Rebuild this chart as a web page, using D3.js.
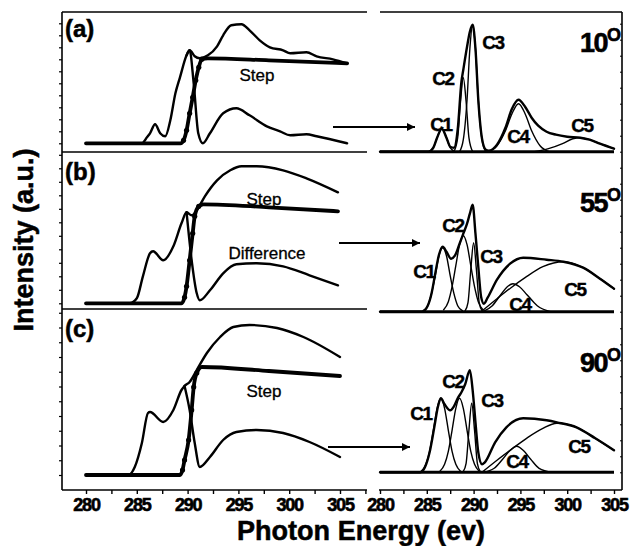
<!DOCTYPE html>
<html>
<head>
<meta charset="utf-8">
<script src="https://cdn.jsdelivr.net/npm/d3@7"></script>
<style>
body { margin: 0; background: #fff; }
svg text { font-family: "Liberation Sans", Arial, sans-serif; fill: #000; }
</style>
</head>
<body>
<svg id="chart" width="631" height="546"></svg>
<script>
// tick labels and names
var energyTicks = [280, 285, 290, 295, 300, 305];
var panelNames = ["(a)", "(b)", "(c)"];
var angles = ["10", "55", "90"];
var peakNames = ["C1", "C2", "C3", "C4", "C5"];

// left column, [photon energy eV, intensity a.u.]
var totalA = [[280,0],[285.5,0],[286.0,6],[286.3,10],[286.8,19],[287.3,10],[287.8,7],[288.3,23],[288.8,50],[289.25,66],[289.9,88],[290.2,93],[290.7,87],[291.2,85],[292.0,88],[292.9,97],[293.5,108],[294.3,118],[295.3,119],[296.1,113],[297.1,103],[298.1,96],[299.4,93],[300.1,90],[301.7,91],[302.7,87],[304.3,84],[305.7,80]];
var stepA = [[280,0],[289.3,0],[289.6,3],[289.9,13],[290.2,30],[290.5,46],[290.8,63],[291.1,76],[291.4,84],[292.0,85],[298.0,83],[305.7,80]];
var diffA = [[289.9,88],[290.2,93],[290.6,60],[291.05,10],[291.5,0],[292.2,10],[293.5,30],[294.8,35],[296.1,28],[297.8,17],[299.1,12],[300.1,8],[301.7,9],[302.7,7],[305.7,0]];

var totalB = [[280,0],[284.3,0],[285.0,5],[285.6,27],[286.3,50],[286.6,52],[287.6,43],[288.6,57],[289.4,80],[289.9,91],[290.4,88],[290.9,93],[291.7,107],[292.9,123],[294.2,133],[295.3,137],[296.8,137],[299.4,133],[301.7,125],[304.8,111]];
var stepB = [[280,0],[289.4,0],[289.7,6],[289.9,17],[290.2,43],[290.5,70],[290.7,87],[291.1,97],[291.55,99],[298.0,96],[304.8,92]];
var diffB = [[289.9,91],[290.4,43],[290.9,10],[291.2,3],[292.2,13],[293.5,30],[294.8,39],[296.8,40],[299.4,37],[302.0,28],[304.8,18]];

var totalC = [[280,0],[284.2,0],[284.8,8],[285.5,32],[286.1,62],[286.3,63],[287.6,53],[288.6,65],[289.4,85],[289.7,89],[290.2,93],[290.9,105],[291.9,122],[293.2,138],[294.5,148],[296.1,150],[298.8,147],[301.4,138],[305,118]];
var stepC = [[280,0],[289.25,0],[289.5,5],[289.7,15],[290.1,35],[290.4,65],[290.6,88],[290.9,102],[291.4,108],[298.0,104],[305,99]];
var diffC = [[289.7,89],[290.2,65],[290.7,32],[291.2,8],[292.2,18],[293.5,35],[294.8,43],[296.8,45],[299.4,42],[302.0,33],[305,18]];

// right column, fitted peaks C1..C5 and their envelope
var c1A = [[285.2,0],[285.7,4],[286.1,14],[286.6,23],[287.1,14],[287.5,4],[288.0,0]];
var c2A = [[287.9,0],[288.3,14],[288.6,50],[288.9,74],[289.2,50],[289.5,14],[289.9,0]];
var c3A = [[288.5,0],[288.9,12],[289.3,52],[289.6,103],[289.9,127],[290.2,103],[290.5,52],[290.9,12],[291.3,0]];
var c4A = [[291.5,0],[292.5,6],[293.4,21],[294.1,38],[294.8,48],[295.5,38],[296.2,21],[297.1,6],[298.1,0]];
var c5A = [[296.5,0],[298.0,3],[299.5,8],[300.6,13],[301.4,14],[302.4,12],[303.5,8],[305,3]];
var envA = [[280,0],[285.2,0],[285.7,4],[286.1,14],[286.6,23],[287.1,14],[287.5,5],[287.9,4],[288.3,22],[288.7,70],[288.9,82],[289.3,105],[289.6,120],[289.9,127],[290.2,103],[290.5,52],[290.9,13],[291.3,2],[291.6,1],[292.5,7],[293.4,24],[294.1,43],[294.8,52],[295.5,45],[296.2,34],[296.9,26],[297.8,20],[298.8,17],[300.0,15],[301.4,14],[302.4,12],[303.5,8],[305,3]];

var c1B = [[284.6,1],[285.1,6],[285.5,18],[285.9,36],[286.3,56],[286.7,64],[287.1,56],[287.5,36],[287.9,18],[288.3,6],[288.8,1]];
var c2B = [[286.8,2],[287.3,10],[287.7,25],[288.1,46],[288.5,67],[288.9,76],[289.3,67],[289.7,46],[290.1,25],[290.5,10],[291.0,2]];
var c3B = [[289.1,1],[289.4,9],[289.7,42],[290.0,69],[290.3,42],[290.6,9],[290.9,1]];
var c4B = [[291.0,0],[292.0,6],[292.9,17],[293.6,25],[294.2,28],[294.9,25],[295.7,17],[296.8,6],[298.2,0]];
var c5B = [[290.8,0],[292.5,13],[294.0,24],[295.5,34],[297.4,45],[299.6,50],[301.7,44],[303.5,33],[305,23]];
var envB = [[280,0],[284.5,0],[285.1,6],[285.5,18],[285.9,38],[286.3,57],[286.7,65],[287.1,60],[287.6,53],[288.0,56],[288.5,68],[288.9,78],[289.3,88],[289.6,98],[289.9,107],[290.2,78],[290.5,45],[290.8,15],[291.1,8],[291.5,14],[292.5,32],[293.9,48],[295.3,54],[297.8,52],[299.6,50],[301.7,44],[303.5,33],[305,23]];

var c1C = [[284.4,1],[284.9,8],[285.3,21],[285.7,42],[286.1,64],[286.5,74],[286.9,64],[287.3,42],[287.7,21],[288.1,8],[288.6,1]];
var c2C = [[286.4,1],[286.9,8],[287.3,21],[287.7,42],[288.1,64],[288.5,74],[288.9,64],[289.3,42],[289.7,21],[290.1,8],[290.6,1]];
var c3C = [[288.9,1],[289.2,9],[289.5,42],[289.8,69],[290.1,42],[290.4,9],[290.7,1]];
var c4C = [[291.0,0],[292.2,4],[293.1,13],[293.9,22],[294.6,26],[295.3,22],[296.1,13],[297.0,4],[298.4,0]];
var c5C = [[290.9,0],[292.5,12],[294.2,24],[295.8,35],[297.4,44],[298.9,49],[301.0,45],[303.0,34],[305,22]];
var envC = [[280,0],[284.3,0],[284.8,5],[285.3,20],[285.8,45],[286.2,66],[286.5,74],[286.9,68],[287.5,62],[287.9,66],[288.3,74],[288.7,80],[289.1,88],[289.6,102],[289.9,82],[290.2,50],[290.5,20],[290.9,8],[291.2,10],[292.3,30],[293.5,45],[295.3,54],[297.8,52],[298.9,50],[301.0,45],[303.0,34],[305,22]];

// layout
var rows = [
  {top: 12,  base: 143.3, rTop: 12,  rBase: 151.7, tick: 12,
   total: totalA, step: stepA, diff: diffA, peaks: [c1A, c2A, c3A, c4A, c5A], env: envA,
   nameY: 37, angleY: 52, arrow: [333, 415, 127],
   notes: [["Step", 257, 81]],
   peakPos: [[441, 131], [443, 85], [493, 49], [518, 143], [582, 132]]},
  {top: 152, base: 303.3, rTop: 152, rBase: 311.7, tick: 13.5,
   total: totalB, step: stepB, diff: diffB, peaks: [c1B, c2B, c3B, c4B, c5B], env: envB,
   nameY: 180, angleY: 212, arrow: [339, 420, 243],
   notes: [["Step", 264, 205], ["Difference", 267, 259]],
   peakPos: [[424, 278], [453, 232], [491, 263], [520, 311], [575, 296]]},
  {top: 309, base: 475, rTop: 312, rBase: 472.3, tick: 14.75,
   total: totalC, step: stepC, diff: diffC, peaks: [c1C, c2C, c3C, c4C, c5C], env: envC,
   nameY: 337, angleY: 372, arrow: [328, 410, 447],
   notes: [["Step", 264, 397]],
   peakPos: [[421, 420], [453, 388], [492, 407], [517, 468], [579, 453]]}
];

var svg = d3.select("#chart");

var xLeft = d3.scaleLinear().domain([280, 305]).range([86, 340]);
var xRight = d3.scaleLinear().domain([280, 305]).range([380, 614]);

svg.append("defs").append("marker")
  .attr("id", "head")
  .attr("viewBox", "0 0 10 10")
  .attr("refX", 10).attr("refY", 5)
  .attr("markerWidth", 11).attr("markerHeight", 8)
  .attr("markerUnits", "userSpaceOnUse")
  .attr("orient", "auto")
  .append("path").attr("d", "M0,0L10,5L0,10z").attr("fill", "#000");

var frame = svg.append("g").attr("stroke", "#000").attr("stroke-width", 1.6);
// left column frame
frame.append("line").attr("x1", 62).attr("x2", 62).attr("y1", 12).attr("y2", 490);
[12, 152, 309, 490].forEach(function(y) {
  frame.append("line").attr("x1", 62).attr("x2", 367).attr("y1", y).attr("y2", y);
});
// right column frame
frame.append("line").attr("x1", 380).attr("x2", 622).attr("y1", 12).attr("y2", 12);
frame.append("line").attr("x1", 622).attr("x2", 622).attr("y1", 12).attr("y2", 490);
frame.append("line").attr("x1", 379).attr("x2", 622).attr("y1", 490).attr("y2", 490);

var drawX = function(scale, ticks) {
  var ax = d3.axisBottom(scale)
    .tickValues(ticks)
    .tickSize(4)
    .tickPadding(4)
    .tickFormat(function(d) { return energyTicks.indexOf(d) >= 0 ? d : ""; });
  var g = svg.append("g").attr("transform", "translate(0,490)").call(ax);
  g.select(".domain").remove();
  g.selectAll("line").attr("stroke", "#000").attr("stroke-width", 1.4);
  g.selectAll("text")
    .attr("font-size", 18).attr("font-weight", "bold")
    .attr("letter-spacing", -1.2).attr("fill", "#000")
    .attr("stroke", "#000").attr("stroke-width", 0.6)
    .attr("font-family", "'Liberation Sans', Arial, sans-serif");
};
drawX(xLeft, d3.range(280, 308, 2.5));
drawX(xRight, d3.range(280, 306, 2.5));

rows.forEach(function(r, i) {
  var yL = d3.scaleLinear().domain([0, r.base - r.top]).range([r.base, r.top]);
  var yR = d3.scaleLinear().domain([0, r.rBase - r.rTop]).range([r.rBase, r.rTop]);

  var lineL = d3.line().x(function(d) { return xLeft(d[0]); })
    .y(function(d) { return yL(d[1]); }).curve(d3.curveMonotoneX);
  var lineR = d3.line().x(function(d) { return xRight(d[0]); })
    .y(function(d) { return yR(d[1]); }).curve(d3.curveMonotoneX);

  // left y ticks
  var ly = svg.append("g").attr("transform", "translate(62,0)")
    .call(d3.axisLeft(yL).tickValues(d3.range(0, r.base - r.top - 2, r.tick)).tickSize(3).tickFormat(""));
  ly.select(".domain").remove();
  ly.selectAll("line").attr("stroke", "#000").attr("stroke-width", 1.2);

  var ry = svg.append("g").attr("transform", "translate(622,0)")
    .call(d3.axisLeft(yR).tickValues(d3.range(0, r.rBase - r.rTop - 2, 16)).tickSize(2).tickFormat(""));
  ry.select(".domain").remove();
  ry.selectAll("line").attr("stroke", "#000").attr("stroke-width", 1);

  var g = svg.append("g").attr("fill", "none").attr("stroke", "#000")
    .attr("stroke-linejoin", "round").attr("stroke-linecap", "round");

  g.append("path").datum(r.total).attr("d", lineL).attr("stroke-width", 2.4);
  g.append("path").datum(r.diff).attr("d", lineL).attr("stroke-width", 2.4);
  g.append("path").datum(r.step).attr("d", lineL).attr("stroke-width", 3.8);

  // dots only on the rising edge of the step
  var peakIdx = d3.maxIndex(r.step, function(d) { return d[1]; });
  svg.append("g").selectAll("circle")
    .data(r.step.filter(function(d, k) { return d[1] > 0 && k < peakIdx; }))
    .enter().append("circle")
    .attr("cx", function(d) { return xLeft(d[0]); })
    .attr("cy", function(d) { return yL(d[1]); })
    .attr("r", 2.6).attr("fill", "#000");

  // right: baseline, components, envelope
  g.append("path").datum(xRight.domain().map(function(e) { return [e, 0]; }))
    .attr("d", lineR).attr("stroke-width", 3).attr("stroke-linecap", "butt");
  r.peaks.forEach(function(p) {
    g.append("path").datum(p).attr("d", lineR).attr("stroke-width", 1.4);
  });
  g.append("path").datum(r.env).attr("d", lineR).attr("stroke-width", 2.4);

  // arrow
  svg.append("line")
    .attr("x1", r.arrow[0]).attr("x2", r.arrow[1])
    .attr("y1", r.arrow[2]).attr("y2", r.arrow[2])
    .attr("stroke", "#000").attr("stroke-width", 2.2)
    .attr("marker-end", "url(#head)");

  // labels
  svg.append("text").attr("x", 65).attr("y", r.nameY)
    .attr("font-size", 24).attr("font-weight", "bold")
    .attr("stroke", "#000").attr("stroke-width", 0.5).text(panelNames[i]);

  var ang = svg.append("text").attr("x", 621).attr("y", r.angleY)
    .attr("text-anchor", "end").attr("font-weight", "bold").attr("font-size", 27)
    .attr("stroke", "#000").attr("stroke-width", 0.6)
    .attr("letter-spacing", -1.5);
  ang.append("tspan").text(angles[i]);
  ang.append("tspan").attr("dy", -11).attr("font-size", 18).attr("letter-spacing", 0).text("O");

  r.notes.forEach(function(n) {
    svg.append("text").attr("x", n[1]).attr("y", n[2])
      .attr("text-anchor", "middle").attr("font-size", 17)
      .attr("stroke", "#000").attr("stroke-width", 0.3).text(n[0]);
  });

  r.peakPos.forEach(function(pp, k) {
    svg.append("text").attr("x", pp[0]).attr("y", pp[1])
      .attr("text-anchor", "middle").attr("font-size", 19).attr("font-weight", "bold")
      .attr("stroke", "#000").attr("stroke-width", 0.4)
      .attr("letter-spacing", -1.5).text(peakNames[k]);
  });
});

// axis titles
svg.append("text")
  .attr("transform", "translate(33,240) rotate(-90)")
  .attr("text-anchor", "middle").attr("font-size", 27).attr("font-weight", "bold")
  .attr("stroke", "#000").attr("stroke-width", 0.5)
  .text("Intensity (a.u.)");

svg.append("text")
  .attr("x", 361).attr("y", 540)
  .attr("text-anchor", "middle").attr("font-size", 27).attr("font-weight", "bold")
  .attr("stroke", "#000").attr("stroke-width", 0.5)
  .attr("textLength", 248).attr("lengthAdjust", "spacingAndGlyphs")
  .text("Photon Energy (ev)");
</script>
</body>
</html>
